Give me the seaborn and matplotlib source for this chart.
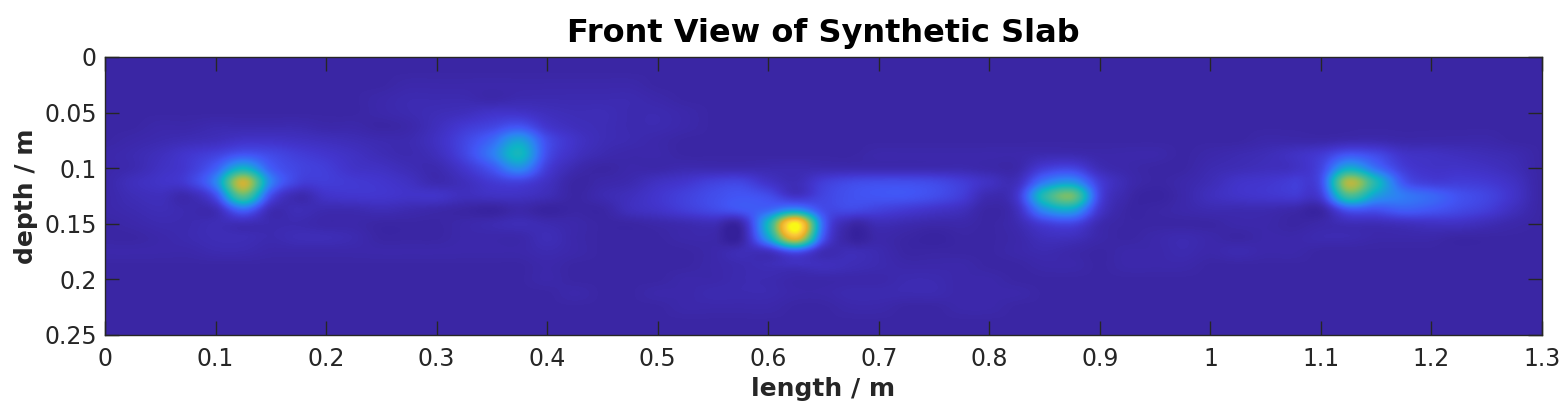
import numpy as np
import matplotlib.pyplot as plt
from matplotlib.colors import LinearSegmentedColormap
import seaborn as sns

# sampled field, one row per depth, one value per length station (0-100 scale)
dx = 0.025
dy = 0.0125
x_ticks = [0, 0.1, 0.2, 0.3, 0.4, 0.5, 0.6, 0.7, 0.8, 0.9, 1, 1.1, 1.2, 1.3]
y_ticks = [0, 0.05, 0.1, 0.15, 0.2, 0.25]

r00 = [3]*53
r01 = [3]*53
r02 = [3,3,3,3,3,3,3,3,3,3,3,4,4,4,4,4,4,4,4,4,3,3,3,3,3,3,3,3,3,3,3,3,3,3,3,3,3,3,3,3,3,3,3,3,3,3,3,3,3,3,3,3,3]
r03 = [3,3,3,3,3,3,3,3,3,3,4,5,5,5,4,5,5,5,5,5,4,3,3,3,3,3,3,3,3,3,3,3,3,3,3,3,3,3,3,3,3,3,3,3,3,3,3,3,3,3,3,3,3]
r04 = [3,3,3,3,3,3,3,3,3,3,4,5,6,7,9,9,7,6,6,5,5,4,3,3,3,3,3,3,3,3,3,3,3,3,3,3,3,3,3,3,3,3,3,3,3,3,3,3,3,3,3,3,3]
r05 = [3,3,4,4,5,5,5,5,4,4,3,4,7,11,14,18,10,7,6,5,5,4,3,3,3,3,3,3,3,3,3,3,3,3,3,3,3,3,3,3,3,3,3,3,3,3,3,3,3,3,3,3,3]
r06 = [3,4,5,6,7,9,9,8,7,6,5,5,8,14,22,35,16,9,6,5,4,3,3,3,3,3,3,3,3,3,3,3,3,3,3,3,3,3,3,3,3,3,4,4,4,5,5,4,4,4,4,3,3]
r07 = [4,5,7,10,13,18,15,12,10,8,6,5,7,14,26,42,16,8,5,4,4,3,3,3,3,3,3,3,4,4,4,4,4,4,5,5,4,4,4,3,4,5,6,8,11,18,15,9,8,7,6,5,3]
r08 = [4,5,8,11,20,40,20,14,12,9,8,6,5,10,18,30,12,5,3,4,4,5,5,5,5,5,5,5,5,5,5,5,4,4,12,14,6,4,3,3,5,6,7,8,14,38,24,12,9,9,8,6,3]
r09 = [4,7,9,12,28,74,28,13,12,11,10,8,5,7,11,13,8,3,4,5,8,10,13,14,9,6,12,15,16,16,15,12,8,7,26,32,12,5,3,4,6,9,10,12,16,70,44,18,12,12,11,8,3]
r10 = [4,6,7,5,16,56,16,5,9,10,10,9,9,7,8,8,6,3,5,7,10,13,16,18,16,9,14,17,18,18,16,12,5,10,46,60,14,4,2,4,7,9,10,11,12,52,34,26,22,17,14,9,3]
r11 = [4,5,6,5,6,22,6,6,5,5,6,5,4,3,2,4,2,3,3,7,9,12,15,18,22,32,16,15,13,11,9,7,3,7,30,36,10,3,3,4,5,5,5,4,3,18,17,20,18,15,12,7,3]
r12 = [3,4,5,5,6,6,5,5,4,4,3,3,3,4,5,6,5,4,3,3,4,5,6,4,42,100,22,4,6,5,4,4,3,5,12,14,5,3,3,3,3,4,4,3,4,6,6,7,8,8,6,4,3]
r13 = [3,3,4,5,6,6,5,6,6,5,3,3,3,4,4,4,6,4,3,3,3,4,4,2,35,82,18,2,4,3,2,3,3,4,7,7,4,3,4,5,4,3,4,4,5,5,4,4,4,3,3,3,3]
r14 = [4,4,4,4,5,5,4,4,4,4,4,4,4,4,4,4,5,4,3,3,3,3,4,6,8,18,6,6,5,3,3,3,3,4,5,4,3,4,4,5,4,5,4,4,3,3,3,3,3,3,3,3,3]
r15 = [3,3,3,3,3,3,3,3,3,3,3,3,3,3,3,3,4,3,3,3,3,3,4,5,6,7,7,6,5,4,4,4,3,3,4,4,3,4,4,4,3,3,3,3,3,3,3,3,3,3,3,3,3]
r16 = [3,3,3,3,3,3,3,3,3,3,3,3,3,3,3,3,4,3,3,3,3,4,4,5,5,4,4,4,4,5,5,4,4,3,3,3,3,3,3,3,3,3,3,3,3,3,3,3,3,3,3,3,3]
r17 = [3,3,3,3,3,3,3,3,3,3,3,3,3,3,3,3,3,4,3,3,4,4,5,5,5,4,4,5,5,5,5,4,4,4,3,3,3,3,3,3,3,3,3,3,3,3,3,3,3,3,3,3,3]
r18 = [3,3,3,3,3,3,3,3,3,3,3,3,3,3,3,3,3,3,3,3,3,4,4,4,4,3,3,4,4,3,3,4,4,3,3,3,3,3,3,3,3,3,3,3,3,3,3,3,3,3,3,3,3]
r19 = [3]*53
r20 = [3]*53

field = np.array([r00, r01, r02, r03, r04, r05, r06, r07, r08, r09, r10,
                  r11, r12, r13, r14, r15, r16, r17, r18, r19, r20], dtype=float)

stops = [(0.00, '#34209a'), (0.03, '#3b27a6'), (0.10, '#4336cf'), (0.18, '#4255f5'),
         (0.27, '#2f80f5'), (0.40, '#0db5c5'), (0.55, '#50bd8e'), (0.65, '#8ebf5a'),
         (0.78, '#e8b02a'), (0.90, '#fbc83a'), (1.00, '#f9f816')]
parula = LinearSegmentedColormap.from_list('parula_like', stops)

sns.set_theme(style="ticks")
ink = '#262626'
nrow, ncol = field.shape

fig = plt.figure(figsize=(15.63, 4.07), dpi=100)
ax = fig.add_axes([105/1563, 1 - 335/407, (1542 - 105)/1563, (335 - 57)/407])

sns.heatmap(field, ax=ax, cmap=parula, vmin=0, vmax=100, cbar=False,
            xticklabels=False, yticklabels=False)
# same cells and colour scale as the heatmap, only smoothed on screen
mesh = ax.collections[0]
ax.imshow(field, cmap=mesh.cmap, norm=mesh.norm, interpolation='catrom',
          extent=(0, ncol, nrow, 0), aspect='auto', zorder=1.5)

# heatmap cell centres sit at index + 0.5
ax.set_xlim(0.5, ncol - 0.5)
ax.set_ylim(nrow - 0.5, 0.5)
ax.set_xticks(np.array(x_ticks) / dx + 0.5)
ax.set_xticklabels([f'{t:g}' for t in x_ticks])
ax.set_yticks(np.array(y_ticks) / dy + 0.5)
ax.set_yticklabels([f'{t:g}' for t in y_ticks], rotation=0)
ax.set_axisbelow(False)
ax.tick_params(direction='in', length=10, width=1, color=ink, labelcolor=ink,
               labelsize=17, top=True, right=True, bottom=True, left=True)
ax.tick_params(axis='x', pad=9)
ax.tick_params(axis='y', pad=6)
for side in ax.spines.values():
    side.set_visible(True)
    side.set_color(ink)
    side.set_linewidth(1)

ax.set_title('Front View of Synthetic Slab', fontsize=23, fontweight='bold', color='black', pad=11)
ax.set_xlabel('length / m', fontsize=18, fontweight='bold', color=ink, labelpad=4)
ax.set_ylabel('depth / m', fontsize=18, fontweight='bold', color=ink, labelpad=4)

plt.savefig('out.png', dpi=100)
plt.close()
